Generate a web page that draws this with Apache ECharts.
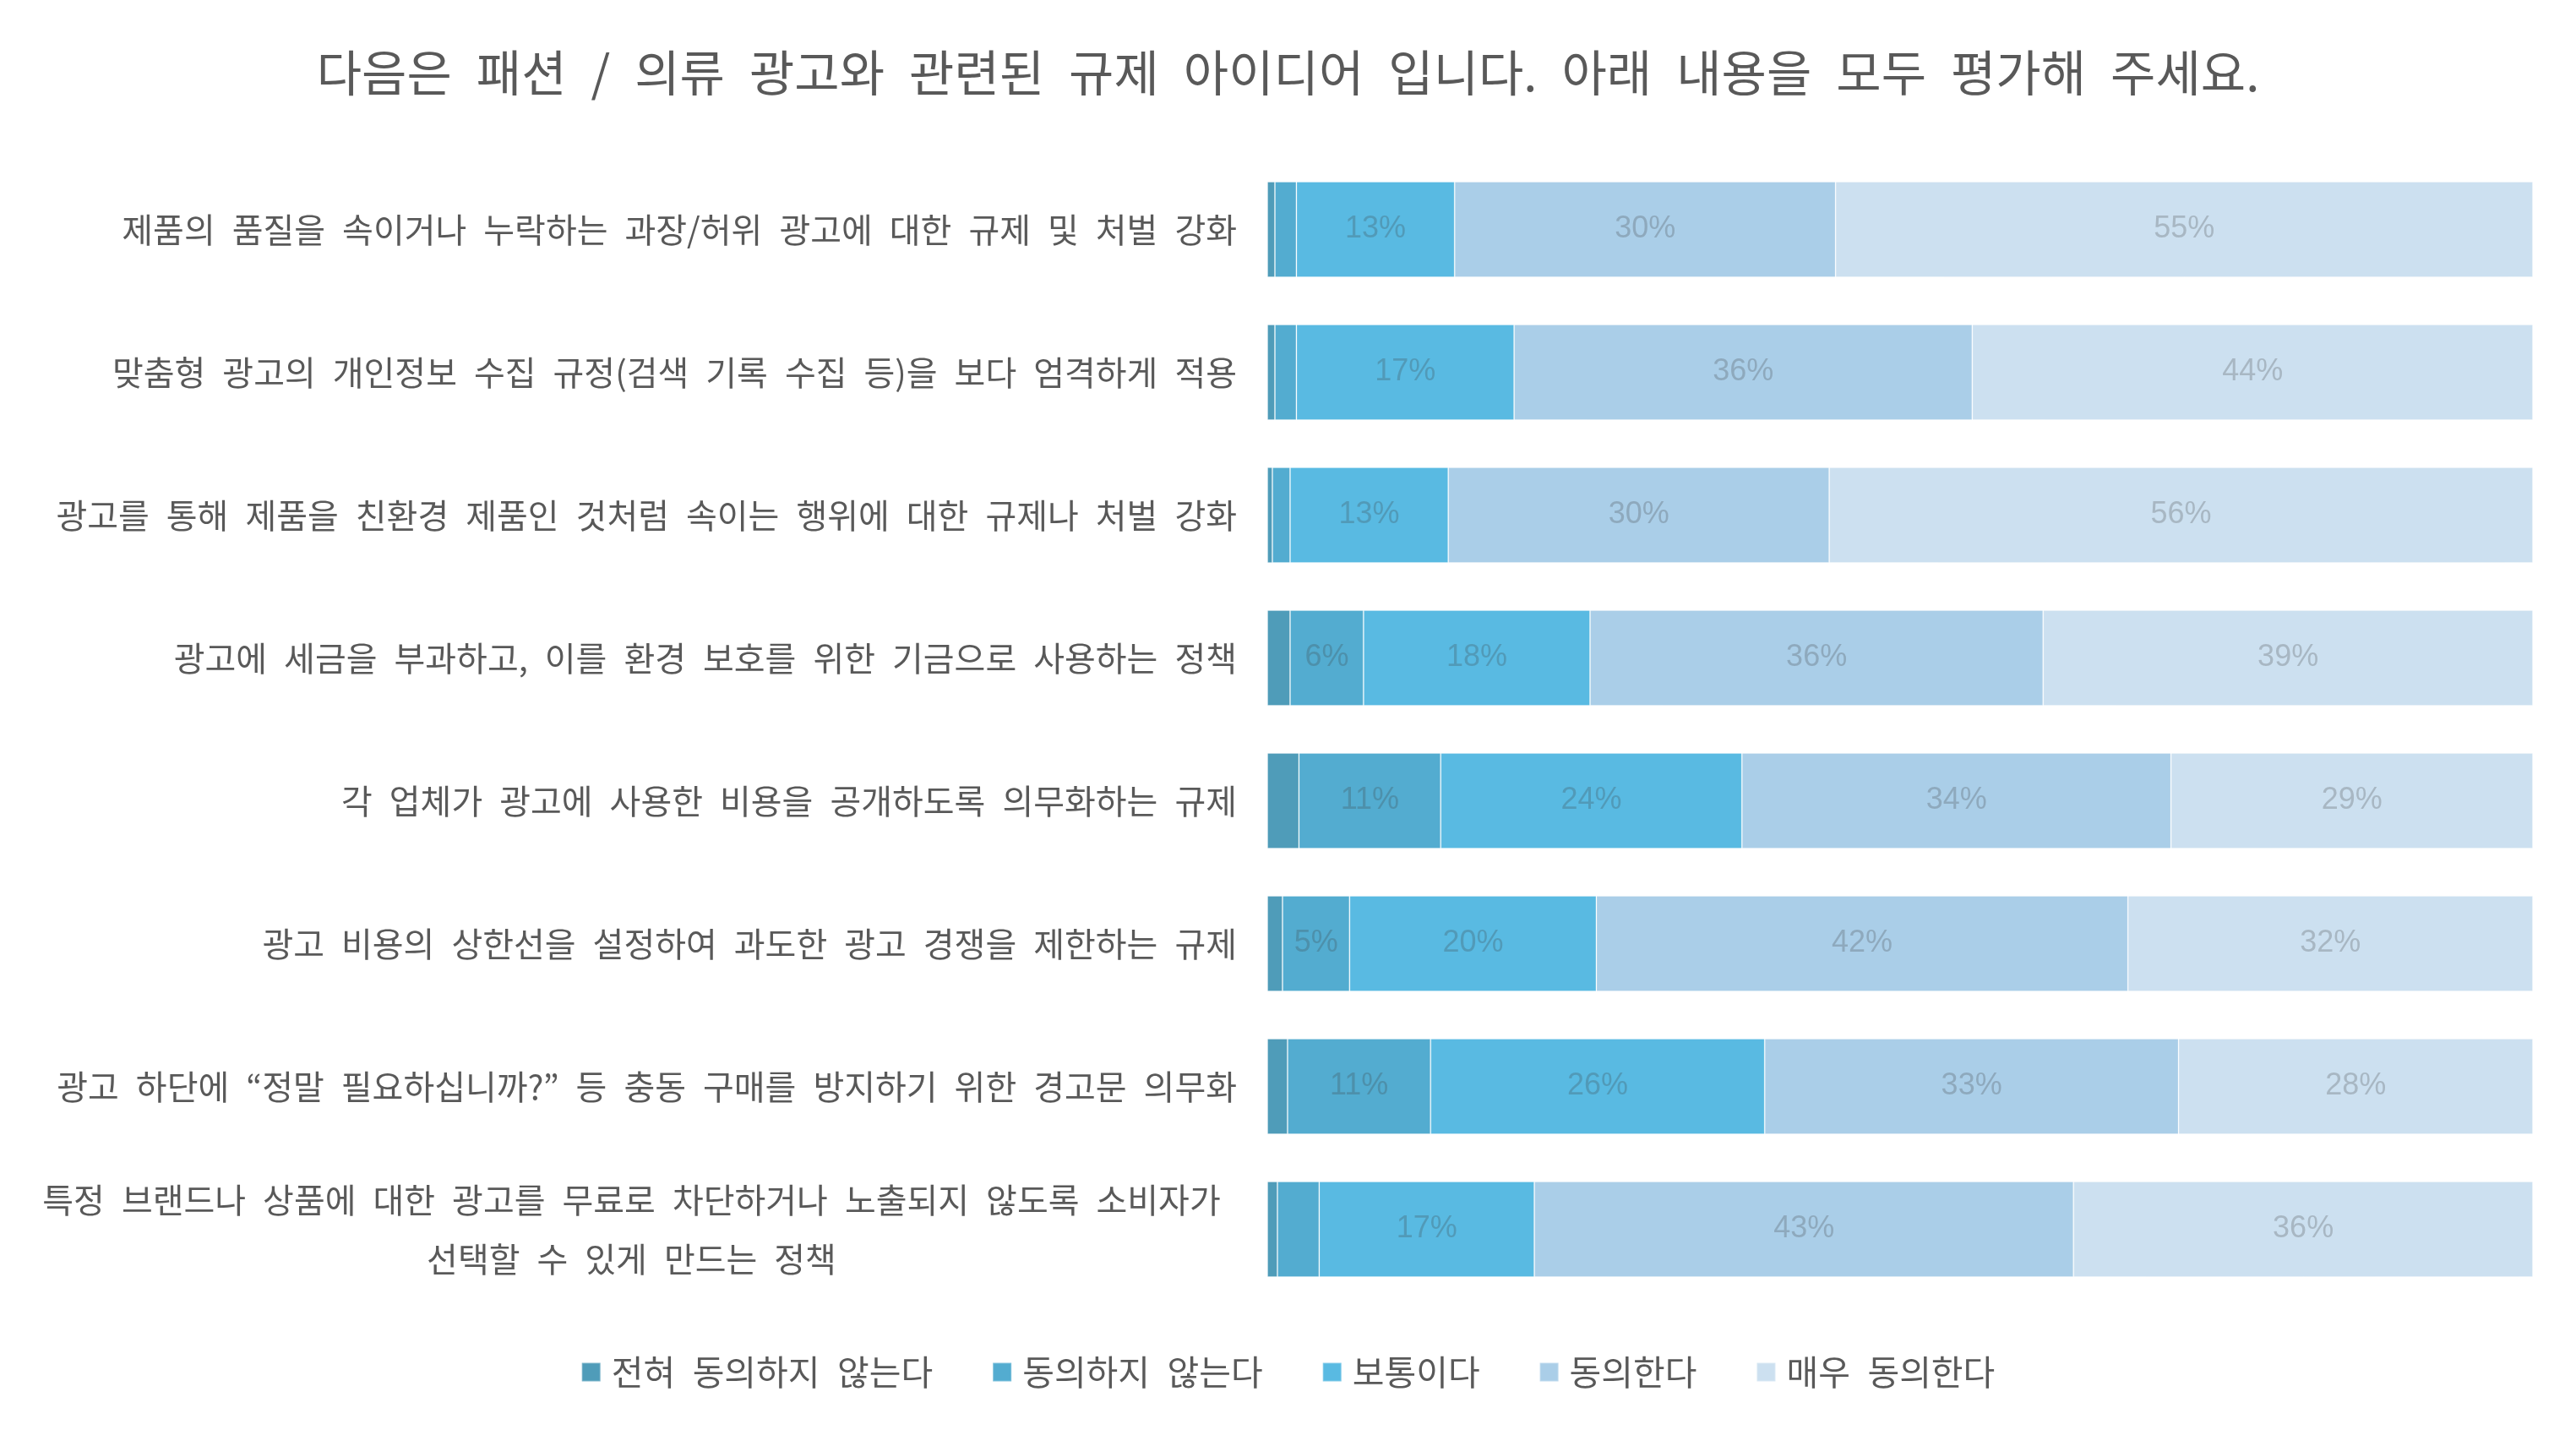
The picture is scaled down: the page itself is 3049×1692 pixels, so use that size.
<!DOCTYPE html>
<html>
<head>
<meta charset="utf-8">
<script src="https://cdn.jsdelivr.net/npm/echarts@6/dist/echarts.min.js"></script>
<style>
    html, body { margin: 0; padding: 0; background: #fff; }
    #chart { width: 3049px; height: 1692px; }
</style>
</head>
<body>
<div id="chart"></div>
<script>
// 문항 (위에서 아래 순서)
const questions = [
    '제품의 품질을 속이거나 누락하는 과장/허위 광고에 대한 규제 및 처벌 강화',
    '맞춤형 광고의 개인정보 수집 규정(검색 기록 수집 등)을 보다 엄격하게 적용',
    '광고를 통해 제품을 친환경 제품인 것처럼 속이는 행위에 대한 규제나 처벌 강화',
    '광고에 세금을 부과하고, 이를 환경 보호를 위한 기금으로 사용하는 정책',
    '각 업체가 광고에 사용한 비용을 공개하도록 의무화하는 규제',
    '광고 비용의 상한선을 설정하여 과도한 광고 경쟁을 제한하는 규제',
    '광고 하단에 “정말 필요하십니까?” 등 충동 구매를 방지하기 위한 경고문 의무화',
    '특정 브랜드나 상품에 대한 광고를 무료로 차단하거나 노출되지 않도록 소비자가\n선택할 수 있게 만드는 정책'
];
const levels = ['전혀 동의하지 않는다', '동의하지 않는다', '보통이다', '동의한다', '매우 동의한다'];
const colors = ['#4f9cb9', '#53acd0', '#59bae2', '#aacee8', '#cce0f0'];

// 응답 비율 (%)
const strongDisagree = [0.6, 0.6, 0.4, 1.8, 2.5, 1.2, 1.6, 0.8];
const disagree = [1.7, 1.7, 1.4, 5.8, 11.2, 5.3, 11.3, 3.3];
const neutral = [12.5, 17.2, 12.5, 17.9, 23.8, 19.5, 26.4, 17.0];
const agree = [30.1, 36.2, 30.1, 35.8, 33.9, 42.0, 32.7, 42.6];
const strongAgree = [55.1, 44.3, 55.6, 38.7, 28.6, 32.0, 28.0, 36.3];

const seriesData = [strongDisagree, disagree, neutral, agree, strongAgree];

const chart = echarts.init(document.getElementById('chart'));

const krFont = '"Noto Sans CJK KR", "Noto Sans", sans-serif';

// 원본 폰트의 넓은 띄어쓰기에 맞춤
function wide(s) {
    return s.replace(/ /g, '\u2002');
}

const titleText = '다음은 패션 / 의류 광고와 관련된 규제 아이디어 입니다. 아래 내용을 모두 평가해 주세요.';

chart.setOption({
    animation: false,
    color: colors,
    title: {
        text: wide(titleText),
        left: 'center',
        top: 52,
        textStyle: {
            fontFamily: krFont,
            fontSize: 58,
            fontWeight: 'normal',
            color: '#595959'
        }
    },
    legend: {
        data: levels,
        left: 'center',
        top: 1598,
        itemWidth: 22,
        itemHeight: 22,
        itemGap: 70,
        icon: 'rect',
        formatter: function (name) {
            return wide(name);
        },
        textStyle: {
            fontFamily: krFont,
            fontSize: 41,
            color: '#595959',
            padding: [0, 0, 0, 8]
        }
    },
    grid: {
        left: 1500,
        right: 51,
        top: 187,
        bottom: 153
    },
    xAxis: {
        type: 'value',
        min: 0,
        max: 100,
        show: false
    },
    yAxis: {
        type: 'category',
        inverse: true,
        data: questions,
        axisLine: {show: false},
        axisTick: {show: false},
        axisLabel: {
            margin: 36,
            fontFamily: krFont,
            fontSize: 40,
            color: '#595959',
            lineHeight: 70,
            formatter: function (value) {
                // 두 줄짜리 문항은 줄마다 가운데 정렬
                if (value.indexOf('\n') < 0) return wide(value);
                return value.split('\n').map(function (line) {
                    return '{w|' + wide(line) + '}';
                }).join('\n');
            },
            rich: {
                w: {
                    width: 1433,
                    align: 'center',
                    fontFamily: krFont,
                    fontSize: 40,
                    color: '#595959',
                    lineHeight: 70
                }
            }
        }
    },
    series: levels.map(function (name, i) {
        return {
            name: name,
            type: 'bar',
            stack: 'total',
            barCategoryGap: '33%',
            data: seriesData[i],
            itemStyle: {
                borderColor: 'rgba(255,255,255,0.25)',
                borderWidth: 1
            },
            label: {
                show: true,
                position: 'inside',
                fontFamily: '"Liberation Sans", Arial, sans-serif',
                fontSize: 36,
                color: 'rgba(60,60,60,0.25)',
                formatter: function (p) {
                    return p.value >= 4.5 ? Math.round(p.value) + '%' : '';
                }
            }
        };
    })
});
</script>
</body>
</html>
